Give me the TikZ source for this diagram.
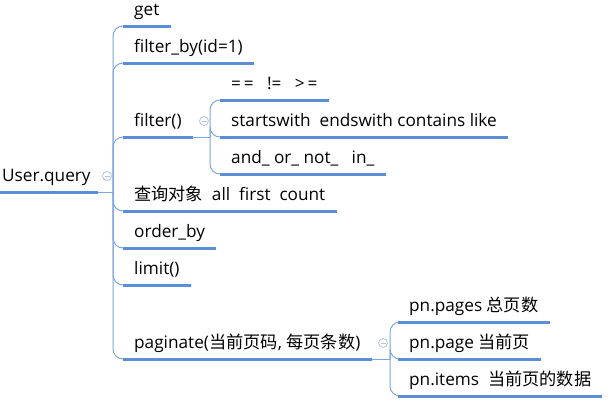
\documentclass[tikz,border=0pt]{standalone}
\usepackage{fontspec}
\setmainfont{Open Sans}
\newfontfamily\cjk{Noto Sans CJK SC}
\definecolor{mapblue}{HTML}{5B8ED6}
\definecolor{linkblue}{HTML}{7EA5DE}
\definecolor{foldgray}{HTML}{B3C1DE}
\begin{document}
\begin{tikzpicture}[x=1pt,y=-1pt]
		\tikzstyle{every node}+=[font=\fontsize{17.2}{20}\selectfont]
		\tikzstyle{topic}=[anchor=south west, inner xsep=11pt, inner ysep=0pt, text height=12pt, text depth=10pt]
		\tikzstyle{bar}=[mapblue, line width=3pt]
		\tikzstyle{link}=[linkblue, line width=1pt, rounded corners=10pt]
		\tikzstyle{fold}=[circle, draw=foldgray, line width=0.8pt, minimum size=9pt, inner sep=0pt,
			path picture={\draw[foldgray, line width=0.8pt] ([xshift=-2.5pt]path picture bounding box.center) -- ([xshift=2.5pt]path picture bounding box.center);}]
		\useasboundingbox (0,0) rectangle (608,402);
		% root
		\node [topic, inner xsep=7pt] (query) at (-5,192) {User.query};
		\draw [bar] (query.south west) -- (query.south east);
		\node [fold] (qfold) at (107,176) {};
		\coordinate (qj) at (113,192);
		\draw [link] (query.south east) -- (qj);
		% first level
		\node [topic] (get) at (123,26) {get};
		\node [topic] (filterby) at (123,63) {filter\_by(id=1)};
		\node [topic] (filter) at (123,137) {filter()};
		\node [topic] (objects) at (123,211) {{\cjk 查询对象}\ \ all\ \ first\ \ count};
		\node [topic] (orderby) at (123,248) {order\_by};
		\node [topic] (limit) at (123,285) {limit()};
		\node [topic] (paginate) at (123,359) {paginate({\cjk 当前页码}, {\cjk 每页条数})};
		\foreach \n in {get,filterby,filter,objects,orderby,limit,paginate} {
			\draw [link] (qj) |- (\n.south west);
			\draw [bar] (\n.south west) -- (\n.south east);
		}
		% filter()
		\node [fold] (ffold) at (204,121) {};
		\coordinate (fj) at (210,137);
		\draw [link] (filter.south east) -- (fj);
		\node [topic] (compare) at (220,100) {=\,=\ \ \ !=\ \ \ >\,=};
		\node [topic] (strops) at (220,137) {startswith\ \ endswith contains like};
		\node [topic] (logic) at (220,174) {and\_ or\_ not\_\ \ \ in\_};
		\foreach \n in {compare,strops,logic} {
			\draw [link] (fj) |- (\n.south west);
			\draw [bar] (\n.south west) -- (\n.south east);
		}
		% paginate()
		\node [fold] (pfold) at (383,343) {};
		\coordinate (pj) at (390,359);
		\draw [link] (paginate.south east) -- (pj);
		\node [topic] (pages) at (398,322) {pn.pages {\cjk 总页数}};
		\node [topic] (page) at (398,359) {pn.page {\cjk 当前页}};
		\node [topic] (items) at (398,396) {pn.items\ \ {\cjk 当前页的数据}};
		\foreach \n in {pages,page,items} {
			\draw [link] (pj) |- (\n.south west);
			\draw [bar] (\n.south west) -- (\n.south east);
		}
	\end{tikzpicture}
\end{document}
